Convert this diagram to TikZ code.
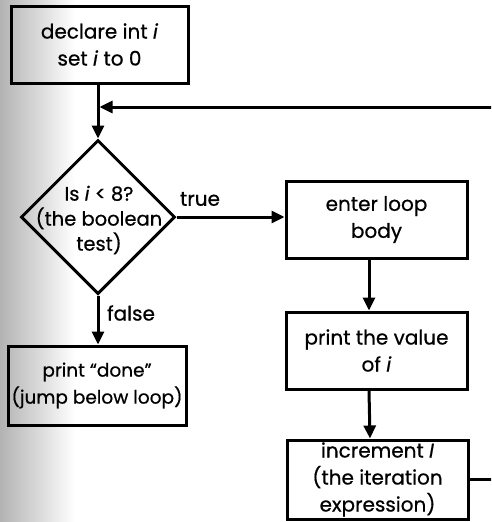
\documentclass[tikz,border=0pt]{standalone}
\usepackage{fontspec}
\setmainfont{Poppins}[FakeBold=0.6]
\usetikzlibrary{arrows.meta,shapes.geometric}
\tikzset{
  flowbox/.style={draw=black, line width=3pt, rectangle, inner sep=0pt, align=center,
    font=\fontsize{20}{27}\selectfont},
  decision/.style={draw=black, line width=3pt, diamond, inner sep=0pt,
    minimum width=154pt, minimum height=154pt},
  txt/.style={align=center, inner sep=0pt, font=\fontsize{19.5}{25}\selectfont},
  lbl/.style={inner sep=0pt, font=\fontsize{20}{24}\selectfont},
  conn/.style={line width=3pt, draw=black},
  arr/.style={conn, -{Triangle[length=13pt,width=12pt]}},
}
\begin{document}
\begin{tikzpicture}[x=1pt,y=-1pt]
\useasboundingbox (0,0) rectangle (491,522);
\clip (0,0) rectangle (491,522);
\fill[white] (0,0) rectangle (491,522);
\shade[left color=black!30, right color=white] (0,0) rectangle (75,522);
\node[flowbox, minimum width=177pt, minimum height=77pt] (decl) at (99.5,44.5)
  {declare int \textit{i}\\set \textit{i} to 0};
\node[decision] (test) at (98,217) {};
\node[txt] (testtxt) at (99,220) {Is \textit{i} < 8?\\(the boolean\\test)};
\node[flowbox, minimum width=178pt, minimum height=79pt, font=\fontsize{18.5}{27}\selectfont] (done) at (97,385.5)
  {print “done”\\(jump below loop)};
\node[flowbox, minimum width=181pt, minimum height=77pt] (enter) at (376.5,219.5)
  {enter loop\\body};
\node[flowbox, minimum width=181pt, minimum height=77pt] (print) at (376.5,350.5)
  {print the value\\of \textit{i}};
\node[flowbox, minimum width=181pt, minimum height=79pt] (incr) at (377.5,479.5)
  {increment \textit{I}\\(the iteration\\expression)};
\node[lbl] (truelbl) at (200,199) {true};
\node[lbl] (falselbl) at (131,313) {false};
\coordinate (join) at (99.5,107);
\coordinate (far) at (520,479.5);
\draw[arr] (decl.south -| test.north) -- (test.north);
\draw[arr] (test.east) -- (test.east -| enter.west);
\draw[arr] (test.south) -- (done.north -| test.south);
\draw[arr] ([xshift=-7.5pt]enter.south) -- ([xshift=-7.5pt]print.north);
\draw[arr] ([xshift=-7.5pt]print.south) -- ([xshift=-7.5pt]incr.north);
\draw[arr] (incr.east) -- (far) |- (join);
\end{tikzpicture}
\end{document}
